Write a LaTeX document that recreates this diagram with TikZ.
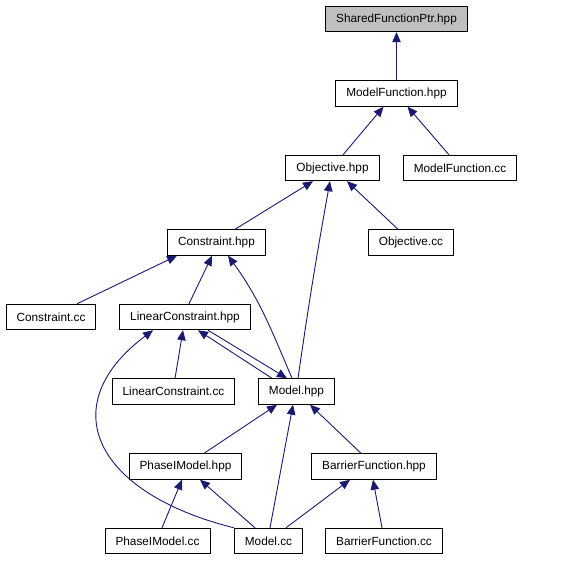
\documentclass[tikz,border=0pt]{standalone}
\usepackage{fontspec}
\setmainfont{Liberation Sans}
\usepackage{xcolor}
\usepackage{tikz}
\usetikzlibrary{shapes,arrows.meta,positioning,calc}

\definecolor{edgeblue}{RGB}{25,25,112}
\definecolor{rootgray}{RGB}{191,191,191}

\tikzset{
  file/.style={draw, rectangle, line width=0.9pt, inner xsep=10.5pt, minimum height=25.5pt,
    font=\fontsize{11.8}{13}\selectfont},
  root/.style={file, fill=rootgray},
  inc/.style={draw=edgeblue, line width=0.9pt, -{Triangle[length=10pt,width=8.5pt]}, color=edgeblue}
}

\begin{document}
\begin{tikzpicture}[x=1pt, y=1pt, node distance=74.5pt]
\useasboundingbox (0,0) rectangle (567,-560);
\node[root] (shared) at (396.5,-19) {SharedFunctionPtr.hpp};
\node[file, below of=shared] (mfunc) {ModelFunction.hpp};
\node[file] (obj) at (332.5,-168) {Objective.hpp};
\node[file, right of=obj, node distance=127.5pt] (mfunccc) {ModelFunction.cc};
\node[file] (cons) at (216.5,-242.5) {Constraint.hpp};
\node[file] (objcc) at (411,-242.5) {Objective.cc};
\node[file] (conscc) at (51,-317) {Constraint.cc};
\node[file] (lincons) at (185,-317) {LinearConstraint.hpp};
\node[file] (linconscc) at (173.5,-391.5) {LinearConstraint.cc};
\node[file] (model) at (296.5,-391.5) {Model.hpp};
\node[file] (phase) at (185.5,-466.5) {PhaseIModel.hpp};
\node[file] (barrier) at (374,-466.5) {BarrierFunction.hpp};
\node[file] (phasecc) at (157.5,-541) {PhaseIModel.cc};
\node[file] (modelcc) at (268.5,-541) {Model.cc};
\node[file] (barriercc) at (384,-541) {BarrierFunction.cc};

% includes, arrow points at the included file
\draw[inc] (mfunc.north) -- (shared.south -| mfunc.north);
\draw[inc] ([xshift=10.5pt]obj.north) -- ([xshift=-13pt]mfunc.south);
\draw[inc] ([xshift=-11pt]mfunccc.north) -- ([xshift=11pt]mfunc.south);
\draw[inc] ([xshift=18.5pt]cons.north) -- ([xshift=-19.5pt]obj.south);
\draw[inc] ([xshift=1.5pt]model.north) to[bend left=1] ([xshift=-2.5pt]obj.south);
\draw[inc] ([xshift=-13pt]objcc.north) -- ([xshift=14.5pt]obj.south);
\draw[inc] ([xshift=26pt]conscc.north) -- ([xshift=-39.5pt]cons.south);
\draw[inc] ([xshift=4pt]lincons.north) -- ([xshift=-4.5pt]cons.south);
\draw[inc] ([xshift=-4.5pt]model.north) to[out=113, in=-54] ([xshift=11.5pt]cons.south);
\draw[inc] (modelcc.north west) .. controls +(-140,35) and +(-100,-75) .. ([xshift=-32pt]lincons.south);
\draw[inc] ([xshift=1.5pt]linconscc.north) -- ([xshift=-2pt]lincons.south);
\draw[inc] ([xshift=-24.5pt]model.north) -- ([xshift=13pt]lincons.south);
\draw[inc] ([xshift=23pt]lincons.south) -- ([xshift=-9.5pt]model.north);
\draw[inc] ([xshift=18.5pt]phase.north) -- ([xshift=-19.5pt]model.south);
\draw[inc] ([xshift=1.5pt]modelcc.north) -- ([xshift=-3.5pt]model.south);
\draw[inc] ([xshift=-13pt]barrier.north) -- ([xshift=13.5pt]model.south);
\draw[inc] ([xshift=4.5pt]phasecc.north) -- ([xshift=-3.5pt]phase.south);
\draw[inc] ([xshift=-13.5pt]modelcc.north) -- ([xshift=14.5pt]phase.south);
\draw[inc] ([xshift=17.5pt]modelcc.north) -- ([xshift=-24pt]barrier.south);
\draw[inc] ([xshift=-2pt]barriercc.north) -- ([xshift=-1pt]barrier.south);
\end{tikzpicture}
\end{document}
